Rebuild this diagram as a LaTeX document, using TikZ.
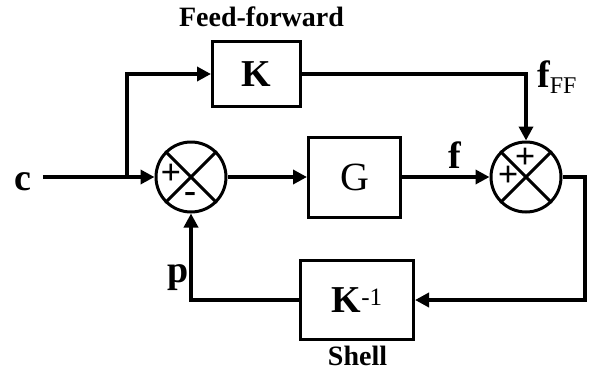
\documentclass[tikz,border=0pt]{standalone}
\usepackage{fontspec}
\setmainfont{Liberation Serif}
\usetikzlibrary{arrows.meta}
\begin{document}
\begin{tikzpicture}[x=1pt,y=1pt,
  box/.style={draw,line width=3pt,inner sep=0pt},
  sum/.style={draw,circle,line width=3pt,minimum size=70pt,inner sep=0pt},
  arr/.style={line width=4pt,-{Triangle[length=14pt,width=14pt]}},
  cross/.style={line width=3pt},
  big/.style={font=\bfseries\fontsize{38}{40}\selectfont},
  lab/.style={font=\bfseries\fontsize{28}{30}\selectfont},
  sign/.style={font=\bfseries\fontsize{36}{36}\selectfont,inner sep=0pt}]
\useasboundingbox (0,0) rectangle (594,376);
% nodes
\node[big,anchor=base] (c) at (23,186) {c};
\coordinate (j) at (127,199);
\node[sum] (s1) at (191,199) {};
\node[sum] (s2) at (526,199) {};
\node[box,big,minimum width=88pt,minimum height=65pt] (K) at (256.5,302) {K};
\node[box,font=\fontsize{40}{42}\selectfont,minimum width=92pt,minimum height=80pt] (G) at (354.5,199) {G};
\node[box,minimum width=113pt,minimum height=79pt] (Ki) at (357,76)
  {\bfseries\fontsize{38}{40}\selectfont K\raisebox{7pt}{\mdseries\fontsize{25}{25}\selectfont -1}};
\node[lab,anchor=base] (ffl) at (261.5,349) {Feed-forward};
\node[lab,anchor=base] (shell) at (357.5,11) {Shell};
\node[big,anchor=base] (f) at (454.5,208) {f};
\node[anchor=base west,inner sep=0pt] (fff) at (537,289)
  {\bfseries\fontsize{38}{40}\selectfont f\raisebox{-6pt}{\mdseries\fontsize{24}{24}\selectfont FF}};
\node[big,anchor=base west,inner sep=0pt] (p) at (167,93.5) {p};
% crosses in summing junctions
\draw[cross] (s1.north west) -- (s1.south east);
\draw[cross] (s1.north east) -- (s1.south west);
\draw[cross] (s2.north west) -- (s2.south east);
\draw[cross] (s2.north east) -- (s2.south west);
\node[sign] (s1p) at (171,202) {+};
\node[sign] (s1m) at (190,179) {-};
\node[sign] (s2t) at (525,218) {+};
\node[sign] (s2l) at (508,200) {+};
% connectors
\coordinate (cst) at ([xshift=8pt]c.east |- s1);
\draw[arr] (cst) -- (s1);
\draw[arr] (j) |- (K);
\draw[arr] (K) -| (s2);
\draw[arr] (s1) -- (G);
\draw[arr] (G) -- (s2);
\coordinate (r) at (585,76);
\draw[arr] (s2) -| (r) -- (Ki);
\coordinate (b) at (191,76);
\draw[arr] (Ki) -- (b) -- (s1);
\end{tikzpicture}
\end{document}
